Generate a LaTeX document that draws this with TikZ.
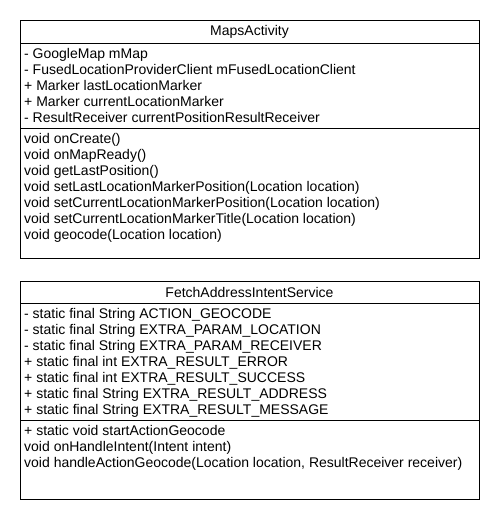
\documentclass[tikz,border=0pt]{standalone}
\usepackage{fontspec}
\setmainfont{Liberation Sans}
\usetikzlibrary{positioning}
\tikzset{
  classpart/.style={draw, rectangle, line width=0.8pt, minimum width=459pt, outer sep=0pt, inner sep=0pt},
  memberlist/.style={anchor=north west, inner sep=0pt, align=left, font=\fontsize{14}{16}\selectfont},
}
\begin{document}
\begin{tikzpicture}[x=1pt,y=-1pt]
\useasboundingbox (0,0) rectangle (500,520);
% MapsActivity
\node (mapstitle)[classpart, anchor=north west, minimum height=23pt, font=\fontsize{14}{16}\selectfont] at (20,20) {MapsActivity};
\node (mapsattr)[classpart, minimum height=85pt, below=0pt of mapstitle]{};
\node (mapsops)[classpart, minimum height=130pt, below=0pt of mapsattr]{};
\node (mapsattrtext)[memberlist] at ([xshift=4pt,yshift=-4.3pt]mapsattr.north west)
  {\strut- GoogleMap mMap\\
   - FusedLocationProviderClient mFusedLocationClient\\
   + Marker lastLocationMarker\\
   + Marker currentLocationMarker\\
   - ResultReceiver currentPositionResultReceiver};
\node (mapsopstext)[memberlist] at ([xshift=4pt,yshift=-4.3pt]mapsops.north west)
  {\strut void onCreate()\\
   void onMapReady()\\
   void getLastPosition()\\
   void setLastLocationMarkerPosition(Location location)\\
   void setCurrentLocationMarkerPosition(Location location)\\
   void setCurrentLocationMarkerTitle(Location location)\\
   void geocode(Location location)};

% FetchAddressIntentService
\node (fetchtitle)[classpart, anchor=north west, minimum height=22pt, font=\fontsize{14}{16}\selectfont] at (20,281) {FetchAddressIntentService};
\node (fetchattr)[classpart, minimum height=117pt, below=0pt of fetchtitle]{};
\node (fetchops)[classpart, minimum height=79pt, below=0pt of fetchattr]{};
\node (fetchattrtext)[memberlist] at ([xshift=4pt,yshift=-4.3pt]fetchattr.north west)
  {\strut- static final String ACTION\_GEOCODE\\
   - static final String EXTRA\_PARAM\_LOCATION\\
   - static final String EXTRA\_PARAM\_RECEIVER\\
   + static final int EXTRA\_RESULT\_ERROR\\
   + static final int EXTRA\_RESULT\_SUCCESS\\
   + static final String EXTRA\_RESULT\_ADDRESS\\
   + static final String EXTRA\_RESULT\_MESSAGE};
\node (fetchopstext)[memberlist] at ([xshift=4pt,yshift=-4.3pt]fetchops.north west)
  {\strut+ static void startActionGeocode\\
   void onHandleIntent(Intent intent)\\
   void handleActionGeocode(Location location, ResultReceiver receiver)};
\end{tikzpicture}
\end{document}
